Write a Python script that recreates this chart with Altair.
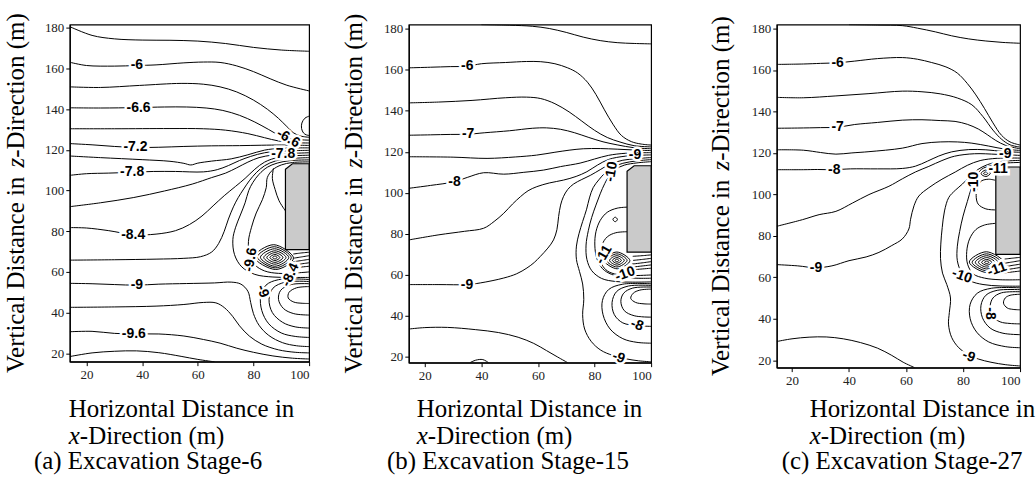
import altair as alt
import pandas as pd

# ---------------- shared values ----------------
x_ticks = [20, 40, 60, 80, 100]
y_ticks = [20, 40, 60, 80, 100, 120, 140, 160, 180]

# excavation block outline: x positions, top and bottom (m)
block_x = [91.5, 94.0, 100.0]
block_top = [110.5, 113.2, 113.2]
block_bottom = [71.0, 71.0, 71.0]

captions = ["(a) Excavation Stage-6", "(b) Excavation Stage-15", "(c) Excavation Stage-27"]

# ---------------- panel (a) ----------------
a_lines = [
    [(14, 180.6), (22, 176.3), (30, 174.6), (40, 174.0), (50, 173.9), (60, 173.5), (70, 172.3), (80, 170.4), (90, 169.1), (100, 168.5)],
    [(14, 163.1), (20, 161.5), (30, 161.2), (38, 161.5), (45, 161.8), (55, 162.8), (62, 163.2), (68, 163.0), (74, 161.3), (80, 158.5), (86, 155), (92, 151.8), (100, 149)],
    [(14, 151), (25, 150.7), (39, 151.7), (54, 152.7), (62, 152.3), (68, 151), (74, 148.5), (80, 144.5), (85, 140), (89, 135.5), (92, 131.5), (94.5, 128.3), (97, 126.8), (100, 126.2)],
    [(14, 140.7), (25, 140.6), (38, 140.8), (48, 141.1), (56, 141.1), (63, 140.6), (69, 139.4), (75, 137), (80.5, 133.7), (85.5, 130), (89.5, 127), (93.5, 125.4), (100, 124.8)],
    [(14, 130.4), (30, 130.4), (50, 130.5), (62, 130.4), (70, 129.7), (78, 128), (84, 126), (89, 124.4), (94, 123.6), (100, 123.4)],
    [(14, 123.1), (22, 122.5), (30, 121.7), (38, 121.2), (46, 121.3), (55, 121.7), (65, 122), (75, 122.1), (83, 122.3), (90, 122.4), (100, 122.2)],
    [(14, 117), (25, 116.2), (40, 115.2), (50, 114.4), (55, 113.4), (57.5, 112.6), (60, 113.5), (65, 114.5), (72, 115.6), (78, 117.6), (84, 119.9), (90, 120.8), (100, 121)],
    [(14, 107.5), (20, 108.3), (28, 108.6), (36.5, 109), (44, 109.4), (52, 109.4), (62, 109.2), (67, 110.3), (71, 112.3), (75, 114.8), (79, 116.8), (84, 118.6), (90, 119.4), (100, 119.8)],
    [(14, 92.1), (25, 94), (37, 96.6), (48, 99.8), (58, 103.2), (65, 106.4), (70, 108.6), (74, 111.2), (78, 114), (82, 116.2), (87, 117.5), (93, 118.2), (100, 118.6)],
    [(14, 81.8), (20, 81.6), (28, 80.3), (37, 78.3), (45, 78.6), (52, 80.3), (57, 83.3), (61.5, 87.5), (65.5, 92.5), (69.5, 97.5), (73.5, 102), (77, 106), (80.5, 110.5), (84, 114), (89, 116.4), (94, 117.1), (100, 117.4)],
    [(14, 65.8), (30, 66), (45, 66.3), (55, 66.7), (61, 67.5), (65, 69.8), (67.5, 74), (69.5, 80), (71, 86), (72.8, 92), (74.5, 96.5), (76.5, 100.8), (78.5, 104.8), (81, 108.8), (84, 112.2), (88, 114.6), (94, 115.8), (100, 116.2)],
    [(100, 115.1), (93, 114.7), (88.5, 113.5), (85, 111.5), (82, 108), (79.8, 104), (78.3, 100), (77, 94), (75.3, 88), (73.6, 82), (72.6, 76), (73.2, 68.5), (75.8, 62.5), (80.5, 58.8), (87, 57.5), (94, 57.3), (100, 57.3)],
    [(100, 114.1), (94, 113.8), (90, 112.6), (87, 110.3), (85, 106.5), (84.6, 101.5), (83.2, 95.5), (81, 89), (79.3, 82), (78.2, 75), (78.6, 68.5), (80.5, 63.5), (84, 60.5), (89, 59.3), (95, 59.5), (100, 60)],
    [(87.2, 111), (86.8, 106), (87.8, 100.5), (89.2, 95), (91.5, 90)],
    [(94.3, 68.8), (97, 69.3), (100, 69.7)],
    [(94.6, 66.8), (97.3, 67.4), (100, 68)],
    [(94.3, 65), (97.2, 65.6), (100, 66.2)],
    [(93.6, 63.3), (96.8, 63.9), (100, 64.5)],
    [(92.5, 61.8), (96.3, 62.3), (100, 62.8)],
    [(100, 52.8), (95.5, 52.2), (92.8, 50), (92.5, 47.2), (94.5, 45.2), (97.5, 44.6), (100, 44.5)],
    [(100, 54.2), (93.5, 53.8), (89.8, 51), (89, 46.5), (90.8, 42), (94.5, 39.5), (100, 38.8)],
    [(100, 55.3), (91.5, 55), (87, 52), (85.6, 46.5), (86.8, 40), (90.5, 35.2), (95, 33), (100, 32.4)],
    [(100, 56.3), (89, 56.2), (84.5, 53.5), (82.6, 48), (83, 41), (85.5, 34.5), (90, 30), (95, 28.3), (100, 27.8)],
    [(14, 54.4), (22, 54.2), (30, 53.8), (38, 53.5), (46, 54), (56, 54.3), (66, 54.6), (72, 55), (75.5, 54), (78, 50.5), (79, 45), (80, 39.5), (82, 33.8), (85.5, 28.8), (90.5, 25.2), (95.5, 23.7), (100, 23.3)],
    [(14, 42.6), (30, 42.8), (45, 43.2), (55, 44), (62, 45), (66.5, 44.8), (69.5, 42.5), (72.5, 38.2), (75, 33.5), (78.5, 28.5), (83, 24.5), (89, 21.7), (95, 20.5), (100, 20.2)],
    [(14, 30.6), (22, 30.8), (30, 29.8), (37.5, 29.5), (46, 29.5), (55, 28.5), (62, 26.8), (68, 25), (74, 22.5), (80, 20.5), (87, 18.7), (94, 17.6), (100, 17.2)],
    [(14, 18.4), (22, 20.2), (30, 21), (38, 21.2), (46, 20.3), (54, 18.5), (60, 17), (66, 15.8)],
    [(100, 136.6), (98.5, 135.6), (97.4, 133.2), (97.3, 130.5), (98, 128.3), (99, 127.4), (100, 127.1)],
]
a_rings = [
    [(86.9, 67.1), (87.7, 67.8), (88.5, 67.1), (87.7, 66.4)],
    [(85.9, 67.1), (87.7, 68.6), (89.5, 67.1), (87.7, 65.6)],
    [(84.8, 67.1), (87.7, 69.5), (90.6, 67.1), (87.7, 64.7)],
    [(83.7, 67.1), (87.7, 70.4), (91.7, 67.1), (87.7, 63.8)],
    [(82.5, 67.2), (87.6, 71.4), (92.7, 67.1), (87.7, 62.8)],
    [(81.4, 67.3), (87.5, 72.4), (93.6, 67), (87.8, 62)],
    [(80.3, 67.3), (87.3, 73.4), (94.4, 66.9), (87.9, 61.2)],
]
a_labels = [
    ("-6", 38.1, 161.5, 0), ("-6.6", 38.7, 140.8, 0), ("-7.2", 37.6, 121.2, 0), ("-7.8", 36.4, 109, 0),
    ("-8.4", 36.8, 78.4, 0), ("-9", 38.1, 53.6, 0), ("-9.6", 37, 29.6, 0), ("-6.6", 92.5, 125.7, 30),
    ("-7.8", 90.7, 118.2, 0), ("-9.6", 79, 66, 280), ("-8.4", 93.3, 58.5, 295), ("-9", 83.3, 50.5, 70),
]

# ---------------- panel (b) ----------------
b_lines = [
    [(40, 182.1), (50, 181.8), (58, 181.3), (64, 180.2), (70, 178.3), (76, 176), (82, 174.3), (88, 173.3), (94, 172.9), (100, 172.7)],
    [(14.35, 161), (22, 161.3), (29, 161.6), (35, 161.8), (40, 163), (48.5, 163.6), (56, 164.1), (61, 164), (66, 163), (70.5, 161), (74, 158.5), (77.5, 154), (80.5, 148), (83.5, 140.5), (86.5, 133.5), (89.5, 128), (93, 125), (96.5, 123.8), (100, 123.3)],
    [(14.35, 143.9), (24.9, 144.3), (36.7, 145.1), (48.5, 146.4), (56, 146.7), (61, 146), (66, 143.5), (71, 139.5), (75.5, 135), (80, 130.5), (84.5, 127), (89, 124.8), (94, 123), (100, 122.4)],
    [(14.35, 128.1), (22, 128.3), (29, 128.5), (35.3, 128.6), (41, 129.3), (50, 130.3), (58, 131.5), (63, 131.7), (68, 131), (73, 129.3), (78, 127), (83, 124.9), (88, 123.4), (94, 122), (100, 121.5)],
    [(14.35, 117.6), (30, 117.4), (42, 116.8), (52, 117.5), (59.5, 118.4), (66, 119.8), (71, 120.8), (76, 121.5), (82, 121.6), (88, 121.3), (94, 120.9), (100, 120.6)],
    [(14.35, 102.2), (22, 103.6), (30.5, 105.4), (35, 107.5), (40.8, 109.8), (47.9, 109.1), (55, 110), (62, 111.1), (68, 112.8), (74.9, 114.5), (80, 116.5), (85, 118.3), (91, 119.3), (100, 119.6)],
    [(14.35, 77), (25, 79.5), (34, 81.2), (40.8, 82.7), (44.5, 86), (47.9, 90), (51, 94.5), (53.8, 98.1), (56.5, 101), (59.6, 103), (64, 104.8), (69, 106.2), (73.5, 108), (77.3, 110.3), (81, 113.5), (85, 116.3), (91, 117.9), (100, 118.5)],
    [(14.35, 55.2), (25, 55.2), (34.9, 55.2), (39.6, 56), (47.9, 58.4), (52.5, 60.5), (56.1, 63.3), (58.7, 66), (60.8, 68.9), (63.5, 73), (65.5, 77), (66.7, 82), (67.3, 88.4), (68, 94), (69, 98.1), (70.5, 101.6), (72.6, 104.3), (75.5, 106.5), (78.5, 108.5), (82, 111.3), (85.5, 114), (90, 115.9), (95, 116.7), (100, 117.2)],
    [(100, 116.2), (95, 115.6), (90, 114.4), (86.5, 112.5), (83.8, 109.8), (81.5, 106.3), (79.5, 102.5), (78.2, 97.5), (77.2, 92), (75.8, 86), (74.5, 80), (73.6, 74), (73.6, 67.5), (74.7, 61.5), (75.8, 55.5), (76.2, 48), (75.8, 40.5), (76.5, 33.5), (78.8, 27.5), (82.2, 23.2), (86.5, 20.6), (91, 19), (95.5, 18), (100, 17.5)],
    [(100, 115.2), (95, 114.6), (90.5, 113.5), (87.5, 111.5), (85.3, 108.5), (83.6, 104.5), (82, 99.5), (80.5, 94), (79, 88), (77.8, 81.5), (77, 74.5), (77.3, 67.5), (79, 62), (82.5, 58.2), (87.5, 56.7), (93.5, 56.4), (100, 56.5)],
    [(91.5, 93), (88, 92.5), (84.5, 90.5), (82, 86.5), (80.5, 81), (80.1, 74.5), (80.8, 68), (82.8, 63), (86, 60.2), (90.5, 58.8), (95, 58.3), (100, 58.3)],
    [(91.5, 81), (87.5, 80.5), (84.5, 78.5), (82.6, 74.5), (82, 69.5), (82.6, 65), (84.6, 61.8), (88, 60.1), (93, 59.6), (100, 59.9)],
    [(93.5, 69), (96.8, 69.3), (100, 69.7)],
    [(93.6, 67), (97, 67.5), (100, 68)],
    [(93.2, 65.2), (96.8, 65.8), (100, 66.4)],
    [(92.5, 63.6), (96.3, 64.2), (100, 64.8)],
    [(91.3, 62.2), (95.8, 62.7), (100, 63.2)],
    [(100, 53), (96, 52.5), (93.7, 51), (92.8, 48.5), (94.5, 46.5), (97.5, 45.8), (100, 45.7)],
    [(100, 54), (93.5, 53.5), (90.3, 51), (89.3, 47), (90.5, 42.5), (94, 40), (100, 39.3)],
    [(100, 54.8), (92, 54.5), (87.8, 51.8), (86.2, 46.5), (87, 40.5), (90, 36.5), (95, 35.2), (100, 34.8)],
    [(100, 55.6), (90, 55.4), (85, 52.8), (82.8, 47.5), (83, 40.5), (85.5, 33.5), (90, 28.8), (95, 27), (100, 26.6)],
    [(14.35, 33.5), (20, 34.2), (28, 34.3), (38, 33.2), (46, 31.8), (53, 29.5), (58.5, 26.5), (63, 23), (67, 19.8), (70.5, 17.1)],
    [(36, 17.1), (38, 18.3), (40.5, 18.6), (42.5, 17.1)],
]
b_rings = [
    [(87.2, 67), (87.9, 67.6), (88.6, 67), (87.9, 66.4)],
    [(86.3, 67), (87.9, 68.4), (89.5, 67), (87.9, 65.6)],
    [(85.3, 67), (87.9, 69.3), (90.5, 67), (87.9, 64.7)],
    [(84.3, 67), (87.9, 70.2), (91.5, 67), (87.9, 63.8)],
    [(83.3, 67.1), (87.9, 71.1), (92.5, 66.9), (88, 62.9)],
    [(86.5, 87), (87.3, 88.1), (88.1, 87), (87.3, 85.9)],
]
b_labels = [
    ("-6", 35, 161.8, 0), ("-7", 35.3, 128.6, 0), ("-8", 30.5, 105.4, 0), ("-9", 34.9, 55.2, 0),
    ("-9", 94.3, 118.6, 0), ("-10", 86, 110.3, 280), ("-11", 83.3, 69.8, 300), ("-10", 90.8, 60.3, 340),
    ("-8", 95, 35.4, 20), ("-9", 88.5, 19.6, 20),
]

# ---------------- panel (c) ----------------
c_lines = [
    [(40, 181.9), (50, 181.7), (58.7, 181.4), (64, 180.2), (70.3, 178.4), (76, 176.5), (82, 175), (88, 174), (94, 173.3), (100, 172.9)],
    [(14.65, 162.7), (24, 162.9), (30, 163.2), (36, 163.5), (42, 164.3), (50, 165.5), (58.7, 166), (64, 165.2), (69, 163.6), (74, 161.5), (78, 158.5), (81.5, 153.5), (84.5, 148), (87.5, 141.5), (90.5, 134.5), (93.5, 128.5), (96.5, 125.3), (100, 123.8)],
    [(14.65, 146.8), (24, 146.6), (35.4, 147.5), (47, 148.6), (58.7, 149.8), (65.6, 149.5), (72, 148.5), (78, 146.5), (83.1, 143.2), (87, 137.5), (90.5, 131), (93.6, 126.5), (96.5, 123.9), (100, 122.8)],
    [(14.65, 131.9), (22, 132), (30, 132.2), (36, 132.4), (42, 133.7), (50, 134.7), (58.7, 135.8), (65.6, 136), (72, 135.6), (77.2, 135.2), (81.5, 133.8), (85.4, 131.5), (88.5, 128.8), (91.5, 126), (95, 123.6), (100, 122)],
    [(14.65, 121.5), (24, 121.3), (30, 120.2), (35.4, 119.4), (41, 120), (47, 120.6), (58.7, 122.3), (65.6, 124.5), (72, 125.3), (78, 125.3), (83.1, 124.7), (89, 123.3), (94.8, 121.8), (100, 121.2)],
    [(14.65, 111.9), (24, 111.9), (29, 112), (34.8, 111.9), (40.5, 112.3), (50, 112.3), (58.7, 112.5), (63.3, 113.6), (67.5, 116), (71.5, 118.5), (76, 120.5), (82, 121.6), (88, 121.5), (94, 120.7), (100, 120.3)],
    [(14.65, 84.6), (23.7, 87.8), (29.5, 90.2), (35.4, 91.8), (41.2, 95.8), (47, 99.9), (54, 103.9), (58.7, 107.5), (63.3, 110.8), (68, 113.5), (72.6, 116.3), (77, 118.4), (84, 119.6), (92, 119.3), (100, 118.8)],
    [(14.65, 66.1), (22, 65.5), (28.4, 64.6), (34, 65.5), (40, 68), (46, 69.8), (50.5, 72), (55, 75.3), (58.7, 78.5), (61, 83.3), (61.6, 88), (62.8, 94.5), (64.5, 99.2), (68, 103.2), (72.6, 107.3), (77.3, 110.8), (81.5, 114), (86, 116.3), (92, 117.4), (100, 117.5)],
    [(100, 116.4), (93, 115.8), (88.5, 114.3), (85, 111.8), (82.3, 108.5), (79.8, 105), (77.3, 102), (75, 98.5), (73.5, 92), (72.7, 84), (72.2, 76), (72.1, 69), (72.8, 62), (74.3, 56.5), (75.6, 50), (75.2, 43), (74.9, 37.4), (76, 31), (78.5, 26), (81.8, 22.6), (85.5, 20.5), (89.8, 19), (95, 17.8), (100, 17.2)],
    [(100, 115.4), (94, 115), (89.8, 113.9), (86.5, 112.1), (84.4, 108.3), (82.9, 103), (81.5, 96.5), (80, 89.5), (78.8, 82), (78, 75), (78, 68), (79.6, 62), (82.5, 58.3), (87, 56.5), (93, 55.8), (100, 55.7)],
    [(91.3, 86), (87.5, 85.2), (84.5, 83), (82.3, 78.5), (81.3, 72.5), (81.6, 66.3), (83.6, 61.6), (87.5, 59.6), (93, 58.8), (100, 58.8)],
    [(91.3, 92.5), (88, 93), (85.3, 95.3), (84.6, 99.5), (85.2, 104), (86.5, 106.5), (89, 107.3), (91.3, 106.8)],
    [(94.6, 68.8), (97.3, 69.2), (100, 69.6)],
    [(94.8, 66.8), (97.4, 67.4), (100, 68)],
    [(94.4, 65), (97.2, 65.7), (100, 66.3)],
    [(93.6, 63.3), (96.8, 64), (100, 64.7)],
    [(92.5, 61.8), (96.3, 62.4), (100, 63)],
    [(100, 51.8), (96.5, 51.3), (94.8, 50), (94.2, 47.5), (95.5, 45.2), (97.5, 44.5), (100, 44.3)],
    [(100, 53), (93.5, 52.5), (90.5, 50), (89.5, 46), (90, 41.5), (93, 38.5), (96.5, 37.7), (100, 37.5)],
    [(100, 54), (92, 53.7), (88, 51.3), (86.3, 46.5), (86.8, 40.5), (89.5, 35.5), (94, 33), (100, 32.3)],
    [(100, 54.9), (90, 54.7), (85, 52.3), (82.5, 47), (82.5, 40), (84.8, 33.5), (89, 28.8), (95, 26.5), (100, 26)],
    [(14.65, 29), (20, 30.3), (26, 31.1), (32, 31.2), (38, 30.3), (44, 28.5), (50, 25.8), (55, 22.3), (59, 19), (63, 16.4)],
]
c_rings = [
    [(87.5, 67.2), (88.3, 67.8), (89.1, 67.2), (88.3, 66.6)],
    [(86.5, 67.2), (88.3, 68.6), (90.1, 67.2), (88.3, 65.8)],
    [(85.4, 67.2), (88.3, 69.5), (91.2, 67.2), (88.3, 64.9)],
    [(84.3, 67.2), (88.3, 70.4), (92.3, 67.2), (88.3, 64)],
    [(83.2, 67.2), (88.3, 71.3), (93.4, 67.1), (88.4, 63.1)],
    [(82.2, 67.3), (88.2, 72.3), (94.4, 67), (88.5, 62.2)],
    [(86.3, 110), (87.9, 111.7), (89.6, 110.2), (88, 108.6)],
    [(87.2, 110.1), (87.9, 110.8), (88.7, 110.2), (88, 109.5)],
]
c_labels = [
    ("-6", 36, 163.5, 0), ("-7", 36, 132.4, 0), ("-8", 34.8, 111.9, 0), ("-9", 28.4, 64.6, 0),
    ("-9", 94.8, 119.3, 0), ("-11", 92.3, 112.4, 0), ("-10", 84, 106, 270), ("-10", 79.6, 60.6, 20),
    ("-11", 91.9, 63.8, 340), ("-8", 89.5, 42.5, 90), ("-9", 82, 21.8, 20),
]

SERIF = "Liberation Serif"
SANS = "Liberation Sans"
TFS = 25  # title font size
TEXT_TOP = 338  # common reference for the texts under the panels


def to_df(lines):
    return pd.DataFrame([{"id": k, "i": i, "x": p[0], "y": p[1]}
                         for k, pts in enumerate(lines) for i, p in enumerate(pts)])


def txt(s, x, y, **kw):
    return alt.Chart(pd.DataFrame({"t": [s]})).mark_text(font=SERIF, fontSize=TFS, color="black", **kw).encode(
        text="t:N", x=alt.value(x), y=alt.value(y))


def panel(lines, rings, labels, caption, W, H, xdom, ydom, tdx, xdx, cdx, extra_left=None):
    sx = alt.Scale(domain=xdom, nice=False, zero=False)
    sy = alt.Scale(domain=ydom, nice=False, zero=False)
    ax = alt.Axis(values=x_ticks, title=None, grid=False, tickSize=4, labelPadding=3,
                  labelFont=SERIF, labelFontSize=13, labelColor="#222")
    ay = alt.Axis(values=y_ticks, title=None, grid=False, tickSize=4, labelPadding=2,
                  labelFont=SERIF, labelFontSize=13, labelColor="#222")
    X = alt.X("x:Q", scale=sx, axis=ax)
    Y = alt.Y("y:Q", scale=sy, axis=ay)
    ln = alt.Chart(to_df(lines)).mark_line(color="black", strokeWidth=1, interpolate="catmull-rom", clip=True).encode(
        x=X, y=Y, detail="id:N", order="i:Q")
    rg = alt.Chart(to_df(rings)).mark_line(color="black", strokeWidth=1, interpolate="cardinal-closed", clip=True).encode(
        x=X, y=Y, detail="id:N", order="i:Q")
    blk = alt.Chart(pd.DataFrame({"x": block_x, "y": block_top, "y2": block_bottom})).mark_area(
        fill="#cacaca", stroke="black", strokeWidth=1.2, orient="vertical").encode(x=X, y=Y, y2="y2:Q")
    ldf = pd.DataFrame(labels, columns=["t", "x", "y", "a"])
    halo = alt.Chart(ldf).mark_text(font=SANS, fontWeight="bold", fontSize=14, fill="white", stroke="white",
                                    strokeWidth=5, baseline="middle").encode(
        x=X, y=Y, text="t:N", angle=alt.Angle("a:Q", scale=None))
    lab = alt.Chart(ldf).mark_text(font=SANS, fontWeight="bold", fontSize=14, color="black", baseline="middle").encode(
        x=X, y=Y, text="t:N", angle=alt.Angle("a:Q", scale=None))
    # y title pieces (rotated)
    y0 = H / 2 + 180.5
    yt1 = txt("Vertical Distance in", tdx, y0, angle=270, align="left", baseline="middle")
    yt2 = txt("z", tdx, y0 - 206.2, angle=270, align="left", baseline="middle", fontStyle="italic")
    yt3 = txt("-Direction (m)", tdx, y0 - 206.2 - 9.7, angle=270, align="left", baseline="middle")
    # x title + caption
    xt1 = txt("Horizontal Distance in", xdx, TEXT_TOP + 56, align="left", baseline="alphabetic")
    xt2 = txt("x", xdx, TEXT_TOP + 83, align="left", baseline="alphabetic", fontStyle="italic")
    xt3 = txt("-Direction (m)", xdx + 11.1, TEXT_TOP + 83, align="left", baseline="alphabetic")
    cap = txt(caption, cdx, TEXT_TOP + 108, align="left", baseline="alphabetic")
    layers = [ln, rg, blk, halo, lab, yt1, yt2, yt3, xt1, xt2, xt3, cap]
    if extra_left is not None:
        # invisible spacer that widens the gap before this panel
        layers.append(alt.Chart(pd.DataFrame({"t": [0]})).mark_rule(strokeOpacity=0, opacity=0).encode(
            x=alt.value(extra_left), x2=alt.value(extra_left + 1), y=alt.value(150)))
    return alt.layer(*layers).properties(width=W, height=H)


pa = panel(a_lines, a_rings, a_labels, captions[0], 240, 338, [14, 100], [15.9, 181.6], -54, -1, -36)
pb = panel(b_lines, b_rings, b_labels, captions[1], 243, 339, [14.35, 100], [17.1, 182.1], -55, 8, -22)
pc = panel(c_lines, c_rings, c_labels, captions[2], 244, 344, [14.65, 100], [16.4, 181.9], -56, 33, 5,
           extra_left=-93)

chart = alt.hconcat(pa, pb, pc, spacing=29).properties(
    padding={"left": 3, "top": 11, "right": 0, "bottom": 0}
).configure_view(stroke="black", strokeWidth=1.2).configure_axis(
    domainColor="black", domainWidth=1.2, tickColor="black", labelFont=SERIF, labelFontSize=13,
    labelColor="#222"
)

chart.save("out.html", embed_options={"renderer": "svg", "actions": False})
